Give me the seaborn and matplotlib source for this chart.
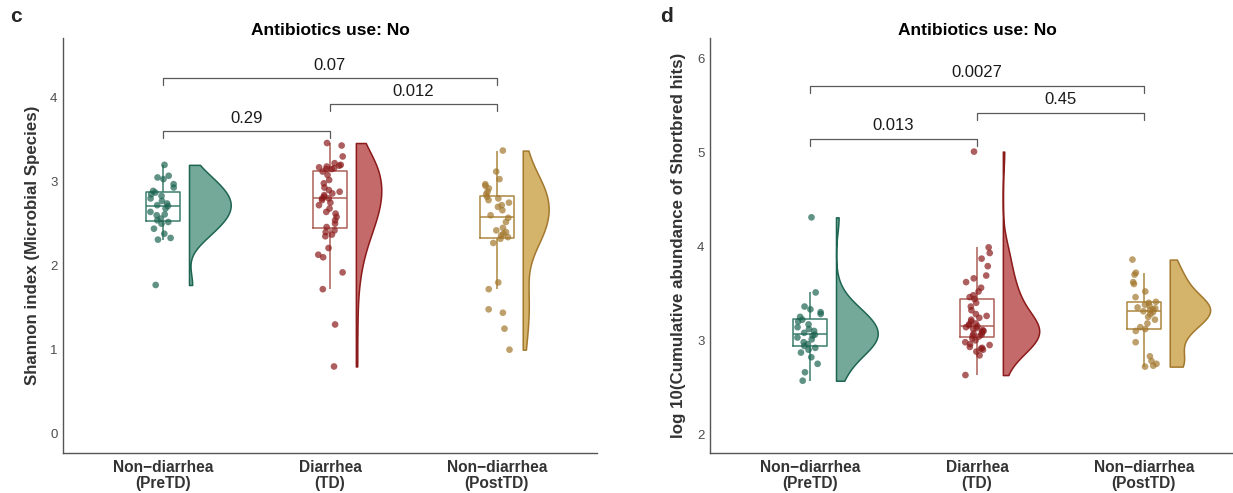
import numpy as np
import pandas as pd
import matplotlib
matplotlib.use("Agg")
import matplotlib.pyplot as plt
import seaborn as sns

# group labels (ggplot style minus sign)
groups = ["Non\u2212diarrhea\n(PreTD)", "Diarrhea\n(TD)", "Non\u2212diarrhea\n(PostTD)"]

# panel c: Shannon index
shannon_pre = [3.20, 3.07, 3.05, 3.03, 2.97, 2.93, 2.89, 2.87, 2.85, 2.83, 2.80, 2.77, 2.74, 2.72,
               2.71, 2.68, 2.64, 2.61, 2.60, 2.56, 2.54, 2.52, 2.50, 2.44, 2.38, 2.33, 2.31, 1.77]
shannon_td = [3.46, 3.43, 3.30, 3.22, 3.20, 3.19, 3.18, 3.17, 3.16, 3.15, 3.15,
              3.12, 3.08, 3.02, 2.98, 2.93, 2.90, 2.88, 2.86, 2.84, 2.82, 2.80,
              2.80, 2.78, 2.75, 2.72, 2.68, 2.64, 2.62, 2.58, 2.54, 2.50, 2.46,
              2.42, 2.40, 2.37, 2.35, 2.21, 2.13, 2.10, 1.92, 1.72, 1.30, 0.80]
shannon_post = [3.37, 3.12, 3.03, 2.97, 2.95, 2.92, 2.88, 2.85,
                2.82, 2.80, 2.78, 2.75, 2.72, 2.70, 2.66, 2.60,
                2.57, 2.52, 2.45, 2.42, 2.40, 2.38, 2.36, 2.34,
                2.32, 2.27, 1.80, 1.72, 1.48, 1.44, 1.25, 1.00]
shannon_pvals = ["0.29", "0.012", "0.07"]

# panel d: log10 cumulative Shortbred abundance
shortbred_pre = [4.31, 3.51, 3.36, 3.33, 3.30, 3.28, 3.25,
                 3.22, 3.20, 3.17, 3.14, 3.12, 3.10, 3.08,
                 3.06, 3.05, 3.03, 3.01, 2.98, 2.96, 2.94,
                 2.92, 2.90, 2.87, 2.82, 2.75, 2.66, 2.57]
shortbred_td = [5.01, 3.99, 3.93, 3.87, 3.79, 3.69, 3.66, 3.62, 3.56, 3.52, 3.48, 3.46,
                3.44, 3.40, 3.36, 3.32, 3.28, 3.26, 3.24, 3.22, 3.20, 3.18, 3.17, 3.16,
                3.15, 3.14, 3.13, 3.12, 3.11, 3.10, 3.09, 3.08, 3.07, 3.06, 3.05, 3.04,
                3.02, 3.00, 2.98, 2.96, 2.95, 2.93, 2.92, 2.91, 2.90, 2.88, 2.84, 2.63]
shortbred_post = [3.86, 3.72, 3.70, 3.62, 3.60, 3.52, 3.46,
                  3.41, 3.40, 3.38, 3.37, 3.35, 3.34, 3.33, 3.32,
                  3.31, 3.30, 3.28, 3.25, 3.22, 3.18, 3.14, 3.12,
                  3.10, 2.98, 2.83, 2.78, 2.75, 2.73, 2.72]
shortbred_pvals = ["0.013", "0.45", "0.0027"]

comparisons = [(0, 1), (1, 2), (0, 2)]

fill_colors = ["#74a99a", "#c46a6a", "#d4b46a"]
line_colors = ["#1d6551", "#8b1a1a", "#a3782e"]
box_colors = ["#3c7d6c", "#ad5f58", "#ad8740"]

FONT = ["Liberation Sans", "DejaVu Sans"]
VIOLIN_W = 0.25


def make_df(values_by_group):
    rows = []
    for i, vals in enumerate(values_by_group):
        for v in vals:
            rows.append({"pos": i, "group": groups[i], "value": v})
    df = pd.DataFrame(rows)
    # seaborn puts the flat edge of a split violin width/2 left of its position
    df["vpos"] = df["pos"] + 0.155 + VIOLIN_W / 2
    df["side"] = "R"
    return df


def raincloud(ax, df, pvals, bracket_y, tip, ylim, yticks, ylabel, label_x):
    # half violins, shifted right of the points
    n_before = len(ax.collections)
    sns.violinplot(data=df, x="vpos", y="value", hue="side", hue_order=["L", "R"],
                   palette={"L": "white", "R": "grey"}, split=True, dodge=False,
                   native_scale=True, inner=None, cut=0, density_norm="area",
                   width=VIOLIN_W, bw_adjust=0.95, linewidth=1.1, legend=False, ax=ax)
    for k, coll in enumerate(ax.collections[n_before:]):
        coll.set_facecolor(fill_colors[k])
        coll.set_edgecolor(line_colors[k])
        coll.set_alpha(None)

    sns.boxplot(data=df, x="pos", y="value", hue="group", palette=box_colors,
                native_scale=True, fill=False, width=0.2, showfliers=False, showcaps=False,
                linewidth=1.1, dodge=False, legend=False, ax=ax)

    np.random.seed(3)
    sns.stripplot(data=df, x="pos", y="value", hue="group", palette=line_colors,
                  native_scale=True, jitter=0.08, size=4.8, alpha=0.7, linewidth=0,
                  dodge=False, legend=False, ax=ax)

    # significance brackets
    for (a, b), y, p in zip(comparisons, bracket_y, pvals):
        ax.plot([a, a, b, b], [y - tip, y, y, y - tip], color="#5a5a5a", lw=0.9)
        ax.text((a + b) / 2, y + tip * 0.9, p, ha="center", va="bottom",
                fontsize=12, color="#1a1a1a", family=FONT)

    ax.set_xlim(-0.6, 2.6)
    ax.set_ylim(*ylim)
    ax.set_yticks(yticks)
    ax.set_yticklabels([str(t) for t in yticks], family=FONT, fontsize=9.5, color="#4d4d4d")
    ax.set_xticks([0, 1, 2])
    ax.set_xticklabels(groups, family=FONT, fontsize=11.2, fontweight="bold",
                       color="#333333", linespacing=1.05)
    ax.set_xlabel("")
    ax.set_ylabel(ylabel, family=FONT, fontsize=12.2, fontweight="bold", color="#333333")
    ax.yaxis.set_label_coords(label_x, 0.5)
    ax.set_title("Antibiotics use: No", family=FONT, fontsize=12.5, fontweight="bold",
                 color="black", pad=2.5)
    for side in ["top", "right"]:
        ax.spines[side].set_visible(False)
    for side in ["left", "bottom"]:
        ax.spines[side].set_color("#555555")
        ax.spines[side].set_linewidth(1.0)
    ax.tick_params(axis="both", length=2, width=0.8, color="#555555")
    ax.tick_params(axis="x", pad=3)
    ax.tick_params(axis="y", pad=2)


sns.set_style("white")
plt.rcParams["font.family"] = FONT

fig = plt.figure(figsize=(12.33, 4.93), dpi=100)
ax_c = fig.add_axes([63 / 1233, 40 / 493, 534 / 1233, 415 / 493])
ax_d = fig.add_axes([710 / 1233, 40 / 493, 534 / 1233, 415 / 493])

df_c = make_df([shannon_pre, shannon_td, shannon_post])
df_d = make_df([shortbred_pre, shortbred_td, shortbred_post])

raincloud(ax_c, df_c, shannon_pvals, [3.60, 3.92, 4.23], 0.075,
          (-0.23, 4.71), [0, 1, 2, 3, 4], "Shannon index (Microbial Species)", -0.043)
raincloud(ax_d, df_d, shortbred_pvals, [5.14, 5.42, 5.71], 0.075,
          (1.8, 6.22), [2, 3, 4, 5, 6], "log 10(Cumulative abundance of Shortbred hits)", -0.045)

fig.text(10 / 1233, 1 - 16 / 493, "c", fontsize=15, fontweight="bold", va="center")
fig.text(660 / 1233, 1 - 16 / 493, "d", fontsize=15, fontweight="bold", va="center")

fig.savefig("out.png", dpi=100)
